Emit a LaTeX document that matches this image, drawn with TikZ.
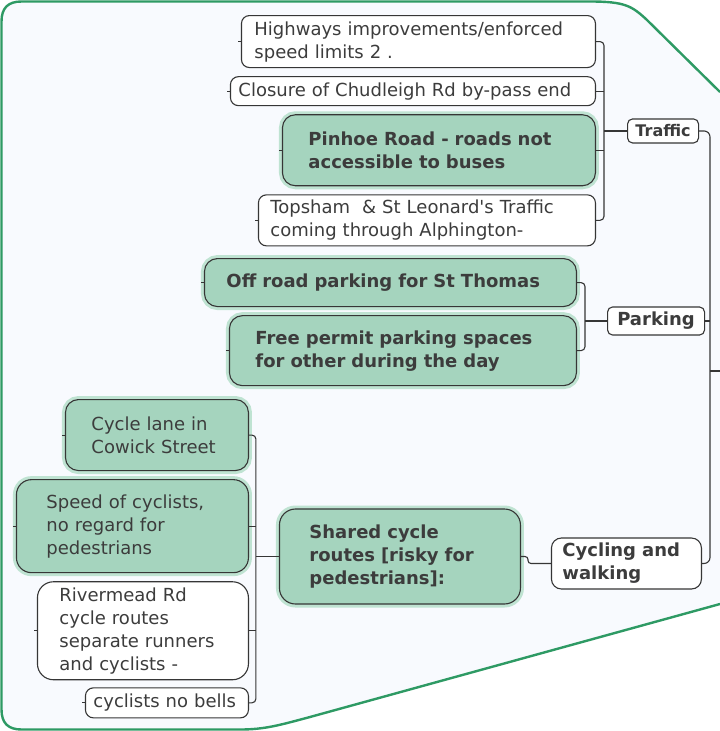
\documentclass[tikz,border=0pt]{standalone}
\usepackage{fontspec}
\setmainfont{DejaVu Sans}[Ligatures=TeXOff]
\usetikzlibrary{positioning,calc}

\definecolor{paper}{HTML}{F8FAFE}
\definecolor{frame}{HTML}{2E9A64}
\definecolor{leafgreen}{HTML}{A5D4BE}
\definecolor{glow}{HTML}{BFE3D2}
\definecolor{ink}{HTML}{3C3C3C}
\definecolor{edge}{HTML}{363636}

\newcommand\mapfont{\fontsize{18}{23}\selectfont}
\newcommand\outline{(720,92) -- (647,20) .. controls (632,6) and (625,1.5) .. (590,1.5)
  -- (21.5,1.5) .. controls (8,1.5) and (1.5,8) .. (1.5,21.5)
  -- (1.5,709.5) .. controls (1.5,723) and (8,729.5) .. (21.5,729.5)
  -- (240,729.5) .. controls (265,729.5) and (280,725) .. (310,717) -- (720,604)}

\begin{document}
\begin{tikzpicture}[
    x=1pt, y=-1pt,
    node distance=8pt,
    every node/.style={font=\mapfont, text=ink},
    leaf/.style={draw=edge, line width=1.1pt, rounded corners=8pt, fill=white, align=left, inner ysep=2pt},
    hot/.style={leaf, rounded corners=13pt, fill=leafgreen, preaction={draw=glow, line width=7pt}},
    strong/.style={font=\mapfont\bfseries},
    topic/.style={leaf, strong, rounded corners=5pt},
    link/.style={draw=edge, line width=1.1pt, rounded corners=4pt}
  ]
  \useasboundingbox (0,0) rectangle (720,731);

  % Frame
  \fill[paper] \outline -- cycle;
  \draw[frame, line width=2.4pt] \outline;

  % Traffic
  \node[leaf, anchor=north east, text width=328pt, inner xsep=13pt, minimum height=52pt] (h1) at (596,15)
    {Highways improvements/enforced\\speed limits 2 .};
  \node[leaf, below=of h1.south east, anchor=north east, text width=349pt, inner xsep=8pt, minimum height=29pt] (h2)
    {Closure of Chudleigh Rd by-pass end};
  \node[hot, strong, below=of h2.south east, anchor=north east, text width=261pt, inner xsep=26pt, minimum height=71pt] (h3)
    {Pinhoe Road - roads not\\accessible to buses};
  \node[leaf, below=of h3.south east, anchor=north east, text width=313pt, inner xsep=12pt, minimum height=51pt] (h4)
    {Topsham \ \& St Leonard's Traffic\\coming through Alphington-};
  \coordinate (tmid) at ($(h1.east)!0.5!(h4.east)$);
  \node[topic, font=\fontsize{16}{20}\selectfont\bfseries, right=31pt of tmid, minimum width=71pt, minimum height=24pt, align=center, inner xsep=5pt] (traffic) {Traffic};

  % Parking
  \node[hot, strong, anchor=north east, text width=328pt, inner xsep=22pt, minimum height=48pt] (p1) at (577,258)
    {Off road parking for St Thomas};
  \node[hot, strong, below=of p1.south east, anchor=north east, text width=295pt, inner xsep=26pt, minimum height=70pt] (p2)
    {Free permit parking spaces\\for other during the day};
  \node[topic, anchor=west, minimum width=97pt, minimum height=28pt, align=center] (parking) at (607,321) {Parking};

  % Cycling and walking
  \node[topic, anchor=east, text width=128pt, inner xsep=11pt, minimum height=51pt, rounded corners=10pt] (cycling) at (702,563.5)
    {Cycling and\\walking};
  \node[hot, strong, anchor=east, text width=181pt, inner xsep=30pt, minimum height=95pt, rounded corners=16pt] (shared) at (521,556.5)
    {Shared cycle\\routes [risky for\\pedestrians]:};
  \node[hot, anchor=north east, text width=131pt, inner xsep=26pt, minimum height=71pt] (k1) at (249,399)
    {Cycle lane in\\Cowick Street};
  \node[hot, below=of k1.south east, anchor=north east, text width=172pt, inner xsep=30pt, minimum height=93pt, rounded corners=15pt] (k2)
    {Speed of cyclists,\\no regard for\\pedestrians};
  \node[leaf, below=of k2.south east, anchor=north east, text width=167pt, inner xsep=22pt, minimum height=98pt, rounded corners=16pt] (k3)
    {Rivermead Rd\\cycle routes\\separate runners\\and cyclists -};
  \node[leaf, below=7pt of k3.south east, anchor=north east, text width=147pt, inner xsep=8pt, minimum height=30pt] (k4)
    {cyclists no bells};

  % Joins
  \coordinate (tjoin) at ($(traffic.west)+(-23,0)$);
  \coordinate (pjoin) at ($(parking.west)+(-22,0)$);
  \coordinate (cjoin) at ($(shared.west)+(-23,0)$);
  \coordinate (trunk) at (710,371);
  \coordinate (root) at (724,371);

  % Edges
  \draw[link] (traffic.west) -- (tjoin);
  \draw[link] (h1.east) -| (tjoin |- h4.east) -- (h4.east);
  \draw[link] (h2.east) -- (h2.east -| tjoin);
  \draw[link] (h3.east) -- (h3.east -| tjoin);

  \draw[link] (parking.west) -- (pjoin);
  \draw[link] (p1.east) -| (pjoin |- p2.east) -- (p2.east);

  \draw[link] (shared.west) -- (cjoin);
  \draw[link] (k1.east) -| (cjoin |- k4.east) -- (k4.east);
  \draw[link] (k2.east) -- (k2.east -| cjoin);
  \draw[link] (k3.east) -- (k3.east -| cjoin);
  \draw[link, rounded corners=3pt] (shared.east) -- ++(7,0) |- (cycling.west);

  \draw[link, rounded corners=6pt] (traffic.east) -| (trunk) |- (cycling.east);
  \draw[link] (parking.east) -- (parking.east -| trunk);
  \draw[link] (trunk) -- (root);

  % Stubs
  \foreach \n in {h1,h2,h3,h4,p1,p2,k1,k2,k3,k4}
    \draw[link] (\n.west) -- ++(-3,0);
\end{tikzpicture}
\end{document}
